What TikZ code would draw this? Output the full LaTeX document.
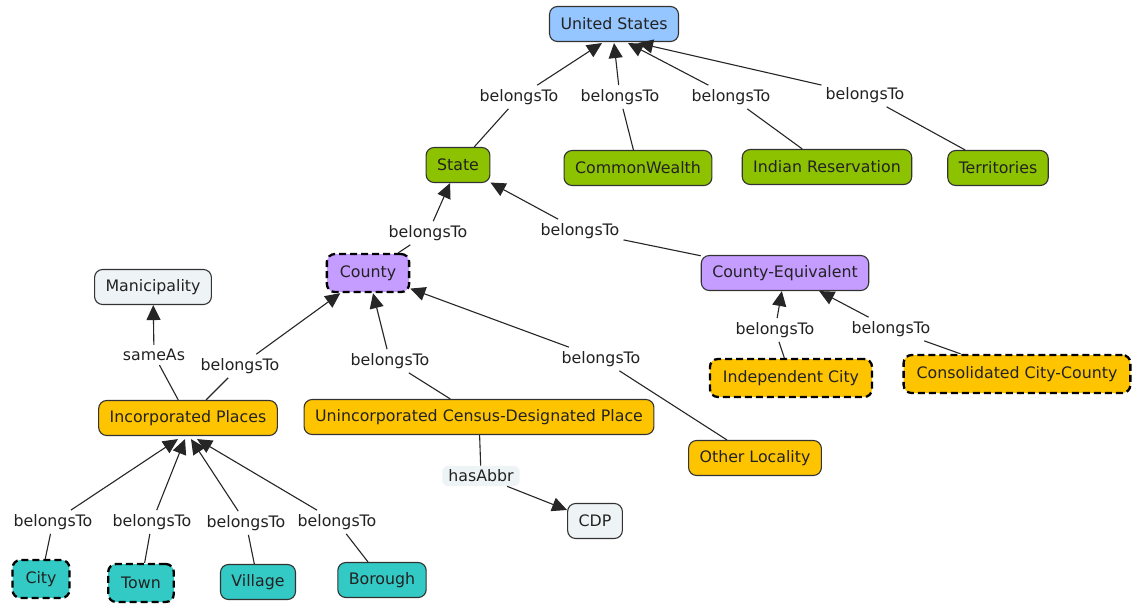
\documentclass[tikz,border=0pt]{standalone}
\usepackage{fontspec}
\setmainfont{DejaVu Sans}
\usetikzlibrary{arrows.meta}
\definecolor{cblue}{HTML}{96C6FF}
\definecolor{cgreen}{HTML}{8DC200}
\definecolor{cpurple}{HTML}{C59CFF}
\definecolor{corange}{HTML}{FFC400}
\definecolor{cteal}{HTML}{33C9C4}
\definecolor{clight}{HTML}{EEF3F5}
\definecolor{cborder}{HTML}{333333}
\definecolor{ctext}{HTML}{222222}
\tikzset{
  concept/.style={draw=cborder, line width=1.1pt, rounded corners=8pt, inner xsep=11pt,
    minimum height=35pt, font=\fontsize{15.8}{18}\selectfont, text=ctext},
  dashedbox/.style={concept, draw=black, line width=2.3pt, dash pattern=on 7pt off 4pt,
    inner xsep=13pt, minimum height=38pt},
  lbl/.style={font=\fontsize{15.8}{18}\selectfont, text=ctext, inner sep=4pt},
  lnk/.style={draw=black!85, line width=1.1pt},
  arr/.style={lnk, -{Triangle[length=15pt,width=14pt]}},
}
\begin{document}
\begin{tikzpicture}[x=1pt,y=-1pt]
\useasboundingbox[fill=white] (0,0) rectangle (1133,603);
% concepts
\node[concept, fill=cblue] (us) at (614,24) {United States};
\node[concept, fill=cgreen] (state) at (458,165) {State};
\node[concept, fill=cgreen] (cw) at (638,168) {CommonWealth};
\node[concept, fill=cgreen] (ir) at (827,167) {Indian Reservation};
\node[concept, fill=cgreen] (terr) at (998,168) {Territories};
\node[dashedbox, fill=cpurple] (county) at (368,273) {County};
\node[concept, fill=cpurple] (ce) at (785,273) {County-Equivalent};
\node[concept, fill=clight] (mun) at (153,287) {Manicipality};
\node[concept, fill=corange] (inc) at (188,418) {Incorporated Places};
\node[concept, fill=corange] (uninc) at (479,417) {Unincorporated Census-Designated Place};
\node[concept, fill=corange] (other) at (755,458) {Other Locality};
\node[dashedbox, fill=corange] (indc) at (791,378) {Independent City};
\node[dashedbox, fill=corange] (cons) at (1017,374) {Consolidated City-County};
\node[concept, fill=clight] (cdp) at (595,521) {CDP};
\node[dashedbox, fill=cteal] (city) at (41,579) {City};
\node[dashedbox, fill=cteal] (town) at (141,583) {Town};
\node[concept, fill=cteal] (vill) at (258,582) {Village};
\node[concept, fill=cteal] (boro) at (382,580) {Borough};
% linking phrases
\node[lbl] (l1) at (519,97) {belongsTo};
\node[lbl] (l2) at (620,97) {belongsTo};
\node[lbl] (l3) at (731,97) {belongsTo};
\node[lbl] (l4) at (865,95) {belongsTo};
\node[lbl] (l5) at (428,233) {belongsTo};
\node[lbl] (l6) at (580,231) {belongsTo};
\node[lbl] (l7) at (154,355) {sameAs};
\node[lbl] (l8) at (240,366) {belongsTo};
\node[lbl] (l9) at (390,361) {belongsTo};
\node[lbl] (l10) at (601,359) {belongsTo};
\node[lbl] (l11) at (775,330) {belongsTo};
\node[lbl] (l12) at (891,329) {belongsTo};
\node[lbl, fill=clight, rounded corners=6pt, inner xsep=6pt] (l13) at (481,476) {hasAbbr};
\node[lbl] (l14) at (53,522) {belongsTo};
\node[lbl] (l15) at (152,522) {belongsTo};
\node[lbl] (l16) at (246,523) {belongsTo};
\node[lbl] (l17) at (337,522) {belongsTo};
% connectors
\draw[lnk] (state) -- (l1); \draw[arr] (l1) -- ([xshift=-12pt,yshift=-1pt]us.south);
\draw[lnk] (cw) -- (l2); \draw[arr] (l2) -- ([yshift=-1pt]us.south);
\draw[lnk] (ir) -- (l3); \draw[arr] (l3) -- ([xshift=14pt,yshift=-1pt]us.south);
\draw[lnk] (terr) -- (l4); \draw[arr] (l4) -- ([xshift=24pt,yshift=-1pt]us.south);
\draw[lnk] (county) -- (l5); \draw[arr] (l5) -- (state);
\draw[lnk] (ce) -- (l6); \draw[arr] (l6) -- (state);
\draw[lnk] (inc) -- (l7); \draw[arr] (l7) -- (mun);
\draw[lnk] (inc) -- (l8); \draw[arr] (l8) -- (county);
\draw[lnk] (uninc) -- (l9); \draw[arr] (l9) -- (county);
\draw[lnk] (other) -- (l10); \draw[arr] (l10) -- (county);
\draw[lnk] (indc) -- (l11); \draw[arr] (l11) -- (ce);
\draw[lnk] (cons) -- (l12); \draw[arr] (l12) -- (ce);
\draw[lnk] (uninc) -- (l13); \draw[arr] (l13) -- (cdp);
\draw[lnk] (city) -- (l14); \draw[arr] (l14) -- ([xshift=-10pt,yshift=-3pt]inc.south);
\draw[lnk] (town) -- (l15); \draw[arr] (l15) -- ([xshift=-3pt,yshift=-3pt]inc.south);
\draw[lnk] (vill) -- (l16); \draw[arr] (l16) -- ([xshift=3pt,yshift=-3pt]inc.south);
\draw[lnk] (boro) -- (l17); \draw[arr] (l17) -- ([xshift=9pt,yshift=-3pt]inc.south);
\end{tikzpicture}
\end{document}
